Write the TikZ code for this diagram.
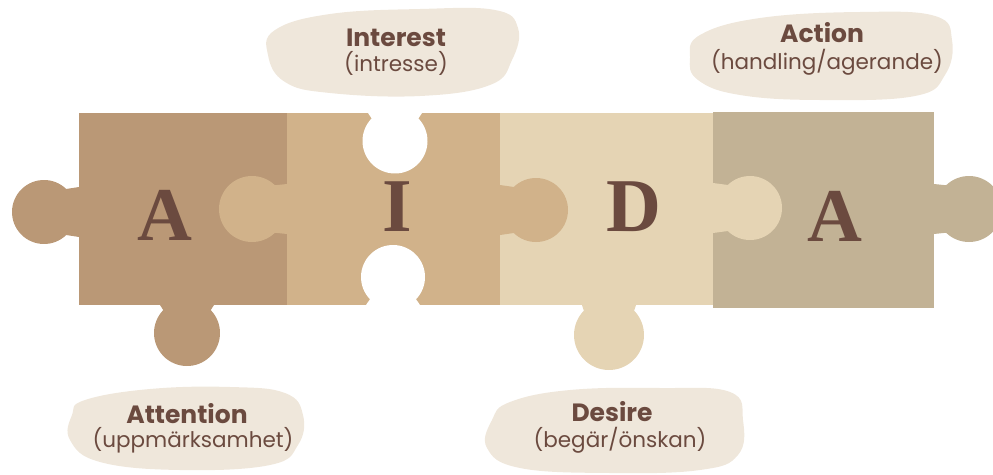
\documentclass[tikz,border=0pt]{standalone}
\usepackage{fontspec}
\setmainfont{Poppins}
\newfontfamily\letterfont{Liberation Serif}

\definecolor{pieceA}{HTML}{BA9876}
\definecolor{pieceI}{HTML}{D1B28A}
\definecolor{pieceD}{HTML}{E5D4B4}
\definecolor{pieceAc}{HTML}{C2B295}
\definecolor{blobfill}{HTML}{EFE7DB}
\definecolor{ink}{HTML}{6B4A3F}

% Puzzle tab: colour, edge point x, y, direction, centre distance, radius, neck half-width
\newcommand\puzzletab[7]{%
  \fill[#1, shift={(#2,#3)}, rotate=#4]
    (-3,-#7) -- (0,-#7) -- ({#5-#6*cos(46)},{-#6*sin(46)})
    arc[start angle=226, end angle=494, radius=#6]
    -- (0,#7) -- (-3,#7) -- cycle;}

\begin{document}
\begin{tikzpicture}[x=1pt,y=-1pt,
  letter/.style={font=\letterfont\bfseries\fontsize{76}{76}\selectfont, text=ink, anchor=base, inner sep=0pt},
  head/.style={font=\bfseries\fontsize{25}{27}\selectfont, text=ink, inner sep=0pt},
  sub/.style={font=\fontsize{21.5}{23}\selectfont, text=ink, inner sep=0pt},
  blob/.style={fill=blobfill}]
\useasboundingbox (0,0) rectangle (993,474);

% label blobs
\fill[blob] plot[smooth cycle, tension=0.7] coordinates {(275,30) (330,14) (420,9) (495,10) (518,28) (512,60) (490,85) (420,96) (330,93) (285,82) (268,55)};
\fill[blob] plot[smooth cycle, tension=0.7] coordinates {(700,35) (760,18) (860,12) (935,16) (952,40) (945,75) (915,96) (820,100) (740,95) (698,80) (690,58)};
\fill[blob] plot[smooth cycle, tension=0.7] coordinates {(85,400) (150,389) (230,387) (285,393) (303,415) (298,445) (270,465) (180,470) (100,462) (70,440) (72,415)};
\fill[blob] plot[smooth cycle, tension=0.7] coordinates {(510,402) (570,390) (660,388) (730,392) (743,420) (738,455) (700,470) (610,473) (520,468) (487,448) (492,420)};

% piece bodies
\fill[pieceA] (79,113) rectangle (287,305);
\fill[pieceI] (287,113) rectangle (500,305);
\fill[pieceD] (500,113) rectangle (713,305);
\fill[pieceAc] (713,112) rectangle (934,308);

% tabs
\puzzletab{pieceA}{79}{212}{180}{35}{32}{25}
\puzzletab{pieceA}{187}{305}{-90}{28}{33}{27}
\puzzletab{pieceI}{287}{209}{180}{35}{33}{25}
\puzzletab{pieceI}{500}{210}{0}{36}{32}{25}
\puzzletab{pieceD}{609}{305}{-90}{30}{35}{27}
\puzzletab{pieceD}{713}{208}{0}{37}{32}{25}
\puzzletab{pieceAc}{934}{209}{0}{35}{33}{25}
% sockets cut into the I piece
\puzzletab{white}{395}{113}{-90}{28}{32.5}{27}
\puzzletab{white}{393}{305}{90}{28}{32}{27}

% letters
\node[letter] (la) at (165,240) {A};
\node[letter] (li) at (397,231) {I};
\node[letter] (ld) at (634,231) {D};
\node[letter] (lac) at (835,241) {A};

% labels
\node[head] (tint) at (396,38) {Interest};
\node[sub] (sint) at (396,63) {(intresse)};
\node[head] (tact) at (822,33) {Action};
\node[sub] (sact) at (827,62) {(handling/agerande)};
\node[head] (tatt) at (187,414) {Attention};
\node[sub] (satt) at (193,440) {(uppmärksamhet)};
\node[head] (tdes) at (612,412) {Desire};
\node[sub] (sdes) at (620,440) {(begär/önskan)};
\end{tikzpicture}
\end{document}
